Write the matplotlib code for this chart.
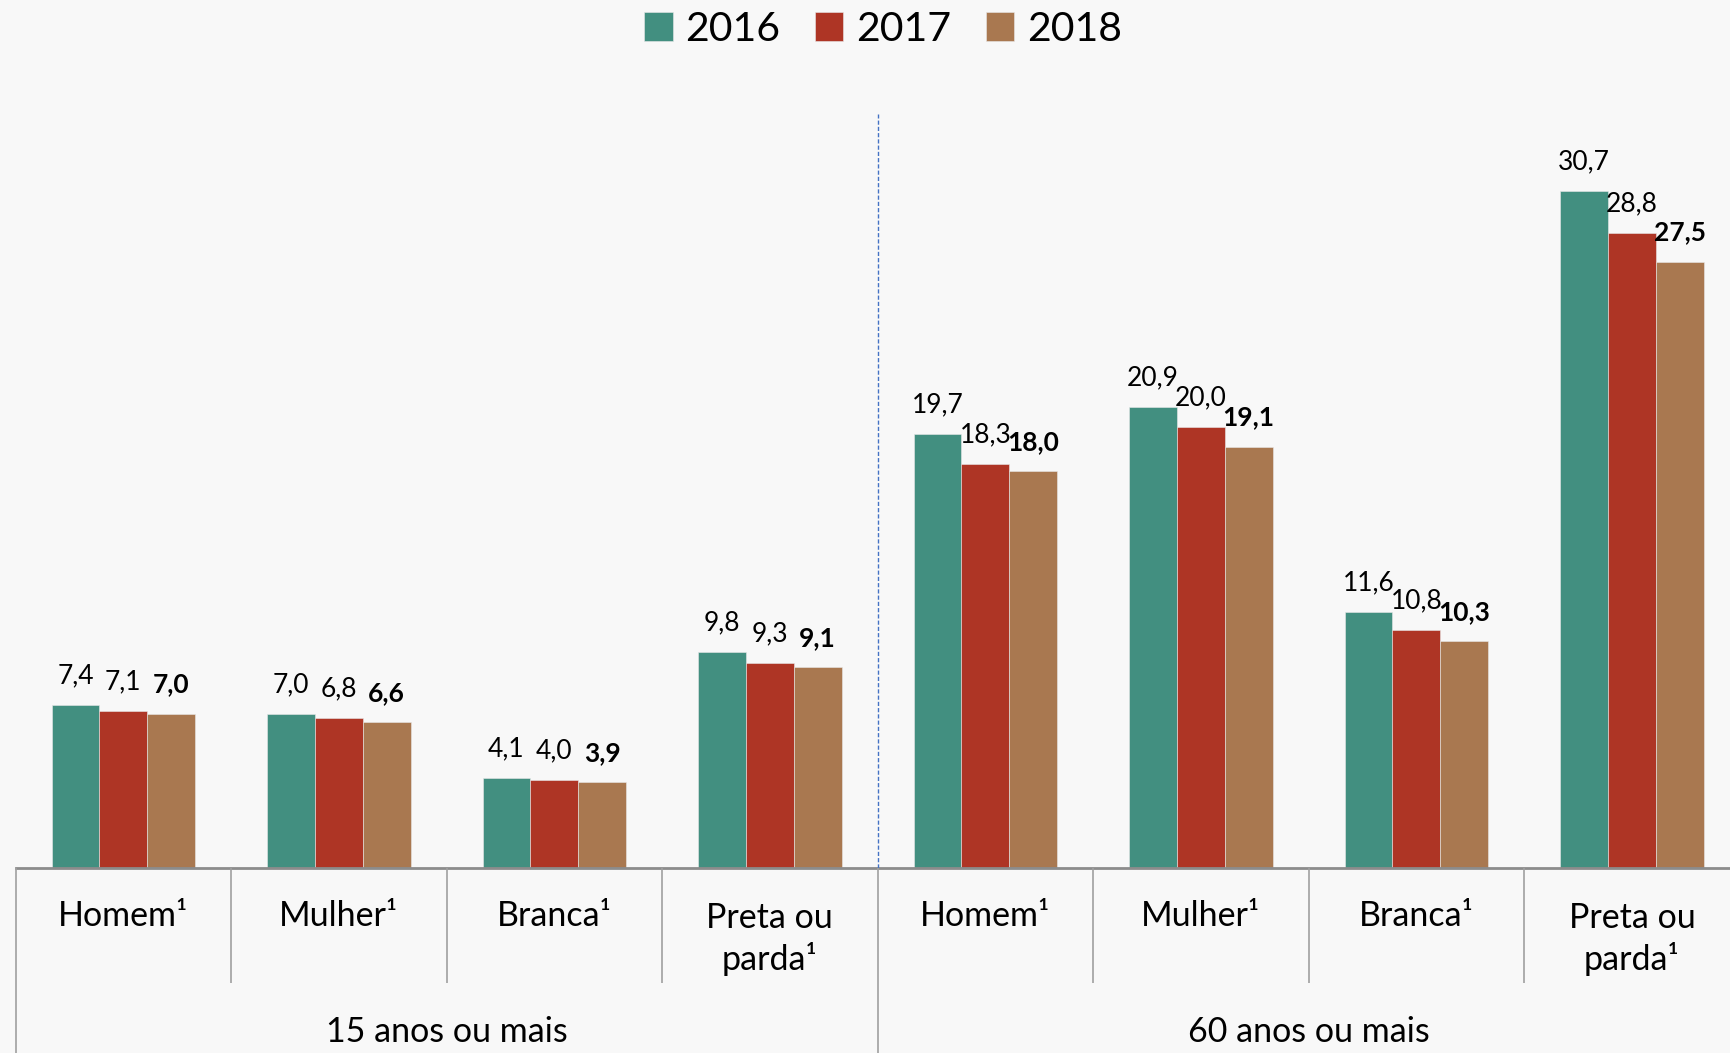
import matplotlib.pyplot as plt
import numpy as np

plt.rcParams['font.family'] = ['Lato', 'DejaVu Sans']

# Data
categories = ['Homem¹', 'Mulher¹', 'Branca¹', 'Preta ou\nparda¹',
              'Homem¹', 'Mulher¹', 'Branca¹', 'Preta ou\nparda¹']
groups = ['15 anos ou mais', '60 anos ou mais']
years = ['2016', '2017', '2018']
v2016 = [7.4, 7.0, 4.1, 9.8, 19.7, 20.9, 11.6, 30.7]
v2017 = [7.1, 6.8, 4.0, 9.3, 18.3, 20.0, 10.8, 28.8]
v2018 = [7.0, 6.6, 3.9, 9.1, 18.0, 19.1, 10.3, 27.5]
colors = ['#428F80', '#AE3525', '#A97850']

fig = plt.figure(figsize=(17.31, 10.53), dpi=100, facecolor='#f8f8f8')
ax = fig.add_axes([0.009, 0.1757, 0.996, 0.733])
ax.set_facecolor('#f8f8f8')

x = np.arange(len(categories))
w = 0.222
for i, (vals, yr) in enumerate(zip([v2016, v2017, v2018], years)):
    pos = x + (i - 1) * w
    ax.bar(pos, vals, width=w, color=colors[i], label=yr,
           edgecolor='#e8e8e8', linewidth=0.4)
    for px, v in zip(pos, vals):
        ax.annotate(f'{v:.1f}'.replace('.', ','), (px, v), xytext=(0, 21),
                    textcoords='offset points', ha='center', va='center',
                    fontsize=19, fontweight='bold' if i == 2 else 'normal')

ax.set_xlim(-0.5, 7.5)
ax.set_ylim(0, 35)
for s in ax.spines.values():
    s.set_visible(False)
ax.set_xticks([])
ax.set_yticks([])

# baseline and group divider
ax.axhline(0, color='#8c8c8c', linewidth=2, clip_on=False)
ax.plot([3.5, 3.5], [0, 34.2], color='#4472C4', linestyle=(0, (3, 1.5)),
        linewidth=1)

# multi-level axis below
tr = ax.get_xaxis_transform()
ax.vlines([0.5, 1.5, 2.5, 4.5, 5.5, 6.5], -0.1485, 0, transform=tr,
          color='#a0a0a0', linewidth=1.2, clip_on=False)
ax.vlines([-0.5, 3.5, 7.5], -0.3, 0, transform=tr,
          color='#a0a0a0', linewidth=1.2, clip_on=False)
for xi, c in zip(x, categories):
    yy = -0.092 if '\n' in c else -0.0624
    ax.text(xi, yy, c, transform=tr, ha='center', va='center',
            fontsize=24.5, linespacing=1.3)
for xi, g in zip([1.5, 5.5], groups):
    ax.text(xi, -0.2125, g, transform=tr, ha='center', va='center',
            fontsize=24.5)

fig.legend(loc='center', bbox_to_anchor=(0.51, 0.972), ncol=3, frameon=False,
           fontsize=29.5, handlelength=0.7, handleheight=0.7,
           handletextpad=0.3, columnspacing=0.85)

fig.savefig('out.png', dpi=100, facecolor=fig.get_facecolor())
